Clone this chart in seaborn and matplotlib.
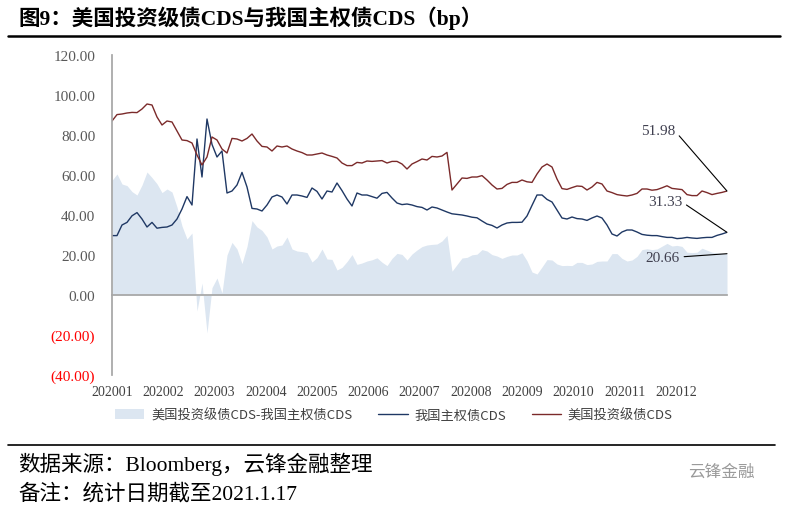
import numpy as np
import matplotlib
matplotlib.use("Agg")
import matplotlib.pyplot as plt
import seaborn as sns

# ---------------- data (roughly 2 trading days per point) ----------------
us_ig_cds = [87.0, 90.2, 90.5, 91.0, 91.3, 91.2, 93.0, 95.5, 95.0, 89.0,
             85.0, 87.0, 86.5, 82.0, 77.5, 77.2, 76.0, 70.0, 65.0, 69.0,
             79.0, 77.5, 73.0, 71.0, 78.3, 78.0, 77.0, 78.3, 80.5, 77.0,
             74.3, 74.0, 72.0, 74.5, 74.0, 74.5, 73.0, 72.0, 71.2, 70.0,
             70.0, 70.5, 71.0, 70.0, 69.3, 68.5, 66.0, 64.7, 64.7, 66.3,
             66.0, 67.0, 66.8, 67.0, 67.2, 66.0, 66.8, 66.8, 65.5, 63.0,
             65.5, 66.7, 68.0, 67.5, 69.3, 69.0, 69.5, 71.3, 52.5, 55.5,
             58.5, 58.3, 59.0, 59.0, 59.7, 57.5, 55.0, 53.0, 53.3, 55.3,
             56.3, 56.3, 57.5, 56.6, 56.3, 60.5, 64.0, 65.5, 64.0, 58.0,
             53.2, 52.8, 53.7, 54.5, 54.3, 52.5, 54.0, 56.3, 55.5, 52.0,
             51.2, 50.2, 49.8, 49.5, 50.0, 50.8, 53.0, 53.0, 52.4, 52.7,
             53.6, 54.6, 53.3, 53.0, 52.7, 50.2, 49.7, 49.7, 52.0, 51.2,
             50.2, 50.8, 51.3, 51.98]

cn_sov_cds = [29.7, 29.7, 35.0, 36.3, 39.6, 41.2, 38.0, 34.0, 36.3, 33.4,
              33.8, 34.0, 35.0, 38.0, 43.0, 49.2, 45.0, 78.0, 59.0, 88.0,
              75.3, 69.0, 72.0, 51.0, 52.0, 55.0, 61.3, 54.0, 43.3, 43.0,
              42.0, 45.0, 49.0, 50.0, 49.0, 45.5, 50.0, 50.0, 49.5, 48.8,
              53.5, 51.8, 48.0, 52.0, 51.5, 56.0, 52.2, 48.0, 44.5, 51.0,
              50.0, 50.0, 49.2, 48.4, 50.8, 51.3, 48.5, 46.0, 45.2, 45.5,
              45.0, 44.2, 43.8, 42.5, 44.0, 43.5, 42.5, 41.5, 40.6, 40.3,
              40.0, 39.5, 38.9, 38.6, 37.0, 35.5, 34.8, 33.5, 35.0, 36.0,
              36.3, 36.3, 36.4, 39.5, 44.8, 50.0, 50.0, 47.8, 46.5, 42.5,
              38.5, 38.0, 39.0, 38.2, 38.0, 37.3, 38.5, 39.5, 38.5, 35.0,
              30.5, 29.5, 31.5, 32.5, 32.5, 31.5, 30.3, 29.9, 29.7, 29.7,
              29.2, 28.8, 28.8, 28.2, 28.4, 28.8, 28.5, 28.3, 28.6, 28.8,
              28.8, 29.8, 30.5, 31.33]

# last values as printed on the chart
end_labels = ["51.98", "31.33", "20.66"]

month_labels = ["202001", "202002", "202003", "202004", "202005", "202006",
                "202007", "202008", "202009", "202010", "202011", "202012"]

us = np.array(us_ig_cds)
cn = np.array(cn_sov_cds)
spread = us - cn
idx = np.arange(len(us))

# ---------------- style ----------------
sns.set_theme(style="white")
plt.rcParams["font.family"] = ["Liberation Serif", "Noto Sans CJK SC", "DejaVu Sans"]
cjk_sans = ["Noto Sans CJK SC", "DejaVu Sans"]

c_area = "#dce6f1"
c_cn = "#1f3864"
c_us = "#7b2a2a"
c_axis = "#a6a6a6"
c_tick = "#595959"

fig = plt.figure(figsize=(7.88, 5.10), dpi=100)
ax = fig.add_axes([112 / 788, 1 - 376 / 510, (727 - 112) / 788, (376 - 56) / 510])

ax.fill_between(idx, 0, spread, color=c_area, lw=0, label="美国投资级债CDS-我国主权债CDS")
sns.lineplot(x=idx, y=cn, ax=ax, color=c_cn, lw=1.0, label="我国主权债CDS")
sns.lineplot(x=idx, y=us, ax=ax, color=c_us, lw=1.0, label="美国投资级债CDS")

ax.set_xlim(0, len(us) - 1)
ax.set_ylim(-40, 120)

# y axis
yticks = np.arange(-40, 121, 20)
ylabels = [f"{v:.2f}" if v >= 0 else f"({abs(v):.2f})" for v in yticks]
ax.set_yticks(yticks, ylabels)
for t, v in zip(ax.get_yticklabels(), yticks):
    t.set_color("#ff0000" if v < 0 else c_tick)
ax.tick_params(axis="y", length=4, width=0.8, color=c_axis, direction="out", pad=8, labelsize=11)

# x axis line sits at zero, labels at the bottom
month_pos = np.linspace(0, len(us) - 1, 13)
ax.spines["bottom"].set_position(("data", 0))
ax.spines["bottom"].set_color(c_axis)
ax.set_xticks(month_pos)
ax.tick_params(axis="x", length=4, width=0.8, color=c_axis, direction="out", labelbottom=False)
sec = ax.secondary_xaxis("bottom")
sec.set_xticks(month_pos[:12], month_labels)
sec.tick_params(length=0, pad=7, labelsize=10, labelcolor="#404040")
sec.spines["bottom"].set_visible(False)

ax.spines["left"].set_color(c_axis)
ax.spines["top"].set_visible(False)
ax.spines["right"].set_visible(False)
ax.set_xlabel("")
ax.set_ylabel("")

# end-of-series labels
ann_style = dict(ha="right", va="center", fontsize=11, color="#404050",
                 arrowprops=dict(arrowstyle="-", color="black", lw=0.8,
                                 shrinkA=1, shrinkB=0, relpos=(1, 0.5)))
last = len(us) - 1
ax.annotate(end_labels[0], xy=(last, us[-1]), xytext=(112.6, 82), **ann_style)
ax.annotate(end_labels[1], xy=(last, cn[-1]), xytext=(114, 46.5), **ann_style)
ax.annotate(end_labels[2], xy=(last, spread[-1]), xytext=(113.5, 19), **ann_style)

# legend
handles, labels = ax.get_legend_handles_labels()
ax.get_legend().remove()
fig.legend(handles, labels, loc="center", bbox_to_anchor=(0.50, 1 - 416 / 510), ncol=3,
           frameon=False, prop={"family": cjk_sans, "size": 9.5}, labelcolor="#404040",
           handlelength=2.2, columnspacing=2.0, handletextpad=0.5)

# title and footer
fig.text(18 / 788, 1 - 18 / 510, "图9：美国投资级债CDS与我国主权债CDS（bp）",
         fontsize=15.5, fontweight="semibold", va="center", ha="left", color="black")
fig.add_artist(plt.Line2D([8 / 788, 780 / 788], [1 - 37 / 510] * 2, color="black", lw=1.8))
fig.add_artist(plt.Line2D([8 / 788, 775 / 788], [1 - 446 / 510] * 2, color="black", lw=1.2))
fig.text(18 / 788, 1 - 464 / 510, "数据来源：Bloomberg，云锋金融整理",
         fontsize=15.5, va="center", ha="left", color="black")
fig.text(18 / 788, 1 - 494 / 510, "备注：统计日期截至2021.1.17",
         fontsize=15.5, va="center", ha="left", color="black")
fig.text(688 / 788, 1 - 472 / 510, "云锋金融", fontsize=12, va="center", ha="left",
         color="#9a9a9a", family=cjk_sans)

fig.savefig("out.png", dpi=100)
